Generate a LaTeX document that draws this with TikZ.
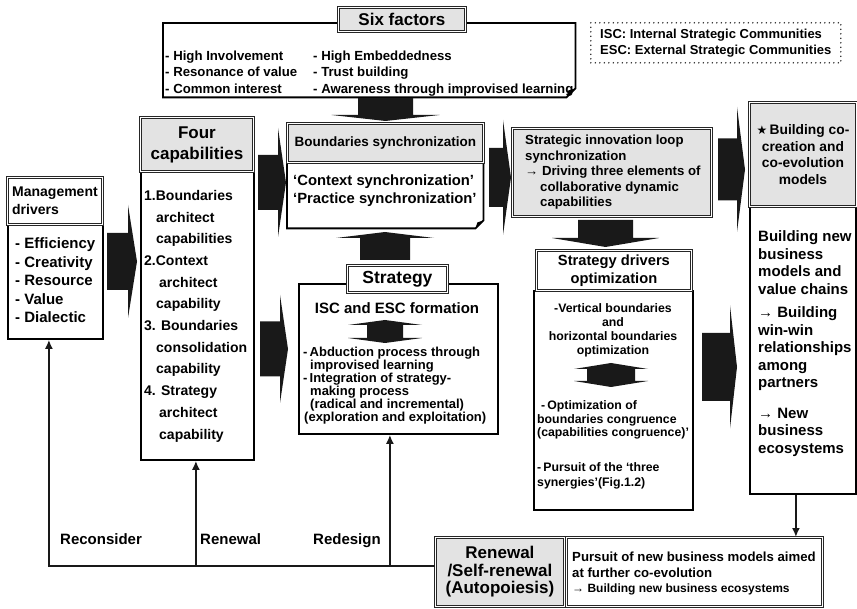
\documentclass[tikz,border=0pt]{standalone}
\usepackage{fontspec}
\setmainfont{Liberation Sans}
\newfontfamily\symf{DejaVu Sans}
\usetikzlibrary{arrows.meta,calc}
\newcommand\fsz[2]{\fontsize{#1}{#2}\selectfont\bfseries}
% horizontal block arrow: x0, xbase, xtip, ymid, shaft half, head half
\newcommand\barR[6]{\fill[blk] (#1,{#4-#5}) -- (#2,{#4-#5}) -- (#2,{#4-#6}) -- (#3,#4) -- (#2,{#4+#6}) -- (#2,{#4+#5}) -- (#1,{#4+#5}) -- cycle;}
% vertical block arrow: xmid, y0, ybase, ytip, shaft half, head half
\newcommand\barV[6]{\fill[blk] ({#1-#5},#2) -- ({#1-#5},#3) -- ({#1-#6},#3) -- (#1,#4) -- ({#1+#6},#3) -- ({#1+#5},#3) -- ({#1+#5},#2) -- cycle;}
% double vertical arrow: xmid, ytop, ybot, head half, shaft half, head length
\newcommand\dblarr[6]{\fill[blk] (#1,#2) -- ({#1+#4},{#2+#6}) -- ({#1+#5},{#2+#6}) -- ({#1+#5},{#3-#6}) -- ({#1+#4},{#3-#6}) -- (#1,#3) -- ({#1-#4},{#3-#6}) -- ({#1-#5},{#3-#6}) -- ({#1-#5},{#2+#6}) -- ({#1-#4},{#2+#6}) -- cycle;}
\begin{document}
\begin{tikzpicture}[x=1pt,y=-1pt,
  box/.style={draw=black, line width=1.8pt, inner sep=0pt, anchor=north west},
  dbl/.style={draw=black!85, line width=0.9pt, double=white, double distance=1pt, inner sep=0pt, anchor=north west},
  gfill/.style={fill=black!11},
  txt/.style={inner sep=0pt, anchor=north west, align=left},
  ctxt/.style={inner sep=0pt, anchor=north, align=center},
  fb/.style={line width=2.6pt, draw=black!90},
  fbarrow/.style={fb, -{Latex[length=9pt,width=8pt]}},
  blk/.style={fill=black!90},
  dotbox/.style={draw=black!85, line width=1.6pt, dash pattern=on 0pt off 4.5pt, line cap=round, inner sep=0pt, anchor=north west, align=left},
]
\useasboundingbox (0,0) rectangle (857,609);

% ---------- Six factors ----------
\node[inner sep=0pt, anchor=north west, minimum width=412pt, minimum height=74pt] (six) at (163,23) {};
\draw[line width=1.8pt, fill=white] (six.north west) -- (six.north east) -- ([yshift=9pt]six.south east) -- ([xshift=-9pt]six.south east) -- (six.south west) -- cycle;
\fill ([yshift=9pt]six.south east) -- ([xshift=-9pt]six.south east) -- ([xshift=-7pt,yshift=7pt]six.south east) -- cycle;
\node[dbl, gfill, minimum width=127pt, minimum height=24pt, font=\fsz{17}{20}] (sixT) at (338,7) {Six factors};
\node[txt, font=\fsz{13.2}{16.5}] (sixL) at (165,50.5) {- High Involvement\\- Resonance of value\\- Common interest};
\node[txt, font=\fsz{13.2}{16.5}] (sixR) at (313,50.5) {- High Embeddedness\\- Trust building\\- Awareness through improvised learning};

% ---------- ISC / ESC legend ----------
\node[dotbox, minimum width=250pt, minimum height=40pt, font=\fsz{13}{16}] (isc) at (590,22) {ISC: Internal Strategic Communities\\ESC: External Strategic Communities};

% ---------- Management drivers ----------
\node[box, minimum width=95pt, minimum height=114pt] (md) at (7,224) {};
\node[dbl, fill=white, minimum width=95pt, minimum height=47pt, align=left, font=\fsz{14}{18}] (mdT) at (7,177) {Management\\drivers};
\node[txt, font=\fsz{15}{18.5}] (mdL) at (15,237.6) {- Efficiency\\- Creativity\\- Resource\\- Value\\- Dialectic};

% ---------- Four capabilities ----------
\node[box, minimum width=113pt, minimum height=288pt] (caps) at (140,171) {};
\node[dbl, gfill, minimum width=113pt, minimum height=54pt, align=center, font=\fsz{17}{21}] (capsT) at (140,117) {Four\\capabilities};
\node[txt, font=\fsz{14}{21.7}] (capsL) at (144,190) {1.Boundaries\\\hspace*{12pt}architect\\\hspace*{12pt}capabilities\\2.Context\\\hspace*{15pt}architect\\\hspace*{12pt}capability\\3. Boundaries\\\hspace*{12pt}consolidation\\\hspace*{12pt}capability\\4. Strategy\\\hspace*{15pt}architect\\\hspace*{15pt}capability};

% ---------- Boundaries synchronization ----------
\node[inner sep=0pt, anchor=north west, minimum width=196pt, minimum height=66pt] (bs) at (287,162) {};
\draw[line width=1.8pt, fill=white] (bs.north west) -- (bs.north east) -- ([yshift=8pt]bs.south east) -- ([xshift=-8pt]bs.south east) -- (bs.south west) -- cycle;
\fill ([yshift=8pt]bs.south east) -- ([xshift=-8pt]bs.south east) -- ([xshift=-6pt,yshift=6pt]bs.south east) -- cycle;
\node[dbl, gfill, minimum width=196pt, minimum height=39pt, font=\fsz{13.5}{16}] (bsT) at (287,123) {Boundaries synchronization};
\node[txt, font=\fsz{14.8}{18}] (bsL) at (293,174.6) {‘Context synchronization’\\‘Practice synchronization’};

% ---------- Strategy ----------
\node[box, minimum width=199pt, minimum height=150pt] (strat) at (298,283) {};
\node[dbl, fill=white, minimum width=100pt, minimum height=27pt, font=\fsz{17.5}{20}] (stratT) at (347,265) {Strategy};
\node[ctxt, font=\fsz{15}{18}] (iscf) at (397,302.6) {ISC and ESC formation};
\dblarr{385}{320}{343}{37}{18}{5}
\node[txt, font=\fsz{13}{13}] (stratL) at (303,347) {-\,Abduction process through\\\hspace*{7pt}improvised learning\\-\,Integration of strategy-\\\hspace*{7pt}making process\\\hspace*{7pt}(radical and incremental)\\\hspace*{1pt}(exploration and exploitation)};

% ---------- Strategic innovation loop ----------
\node[dbl, gfill, minimum width=199pt, minimum height=88pt] (sil) at (512,128) {};
\node[txt, font=\fsz{13.2}{15.5}] (silL) at (525,135.2) {Strategic innovation loop\\synchronization\\→ Driving three elements of\\\hspace*{15pt}collaborative dynamic\\\hspace*{15pt}capabilities};

% ---------- Strategy drivers optimization ----------
\node[box, minimum width=159pt, minimum height=219pt] (sdo) at (533,290) {};
\node[dbl, fill=white, minimum width=155pt, minimum height=40pt, align=center, font=\fsz{14.7}{18}] (sdoT) at (536,250) {Strategy drivers\\optimization};
\node[ctxt, font=\fsz{12.3}{14}] (sdoA) at (613,303.5) {-Vertical boundaries\\and\\horizontal boundaries\\optimization};
\dblarr{611}{363}{387}{37}{24}{6}
\node[txt, font=\fsz{12.3}{13.5}] (sdoB) at (537,400.5) {\hspace*{4pt}-\,Optimization of\\boundaries congruence\\(capabilities congruence)’};
\node[txt, font=\fsz{12.3}{15}] (sdoC) at (537,462) {-\,Pursuit of the ‘three\\synergies’(Fig.1.2)};

% ---------- Right column ----------
\node[box, minimum width=106pt, minimum height=287pt] (rb) at (749,206) {};
\node[dbl, gfill, minimum width=107pt, minimum height=104pt, align=center, font=\fsz{13.8}{16.7}] (rbT) at (749,102) {{\symf\fontsize{12}{16.7}\selectfont ★}\,Building co-\\creation and\\co-evolution\\models};
\node[txt, font=\fsz{15}{17.5}] (rbA) at (758,230.6) {Building new\\business\\models and\\value chains};
\node[txt, font=\fsz{15}{17.5}] (rbB) at (758,306.6) {→ Building\\win-win\\relationships\\among\\partners};
\node[txt, font=\fsz{15}{17.5}] (rbC) at (758,407.6) {→ New\\business\\ecosystems};

% ---------- Bottom ----------
\node[dbl, gfill, minimum width=129pt, minimum height=69pt, align=center, font=\fsz{17}{17.5}] (ren) at (435,537) {Renewal\\/Self-renewal\\(Autopoiesis)};
\node[dbl, fill=white, minimum width=256pt, minimum height=69pt] (pur) at (566,537) {};
\node[txt, font=\fsz{13.2}{15.5}] (purL) at (572,552.2) {Pursuit of new business models aimed\\at further co-evolution\\{\fontsize{12}{15.5}\selectfont → Building new business ecosystems}};

% ---------- Block arrows ----------
\barV{385.5}{98}{115}{121}{27.5}{54}
\barV{385}{260}{238}{232}{25}{49}
\barV{605.5}{220}{238}{247}{27.5}{53.5}
\barR{107}{128}{137}{261.5}{28.5}{56.5}
\barR{258}{278}{286}{182.5}{27.5}{54.5}
\barR{260}{280}{288}{349}{27.5}{54}
\barR{489}{503}{511}{177.5}{29.5}{57.5}
\barR{718}{737}{745}{169.5}{31}{62.5}
\barR{702}{730}{737}{367}{34}{61.5}

% ---------- Feedback loop ----------
\coordinate (fbR) at (435,566);
\draw[fbarrow] (fbR) -| ([xshift=-6.5pt]md.south);
\draw[fbarrow] ([xshift=-1.5pt]caps.south |- fbR) -- ([xshift=-1.5pt]caps.south);
\draw[fbarrow] ([xshift=-8.5pt]strat.south |- fbR) -- ([xshift=-8.5pt]strat.south);
\draw[fbarrow] ([xshift=-7pt]rb.south) -- ([xshift=-7pt]rb.south |- pur.north);

\node[txt, font=\fsz{15}{18}] (lrec) at (60,533.6) {Reconsider};
\node[txt, font=\fsz{15}{18}] (lren) at (200,533.6) {Renewal};
\node[txt, font=\fsz{15}{18}] (lred) at (313,533.6) {Redesign};
\end{tikzpicture}
\end{document}
